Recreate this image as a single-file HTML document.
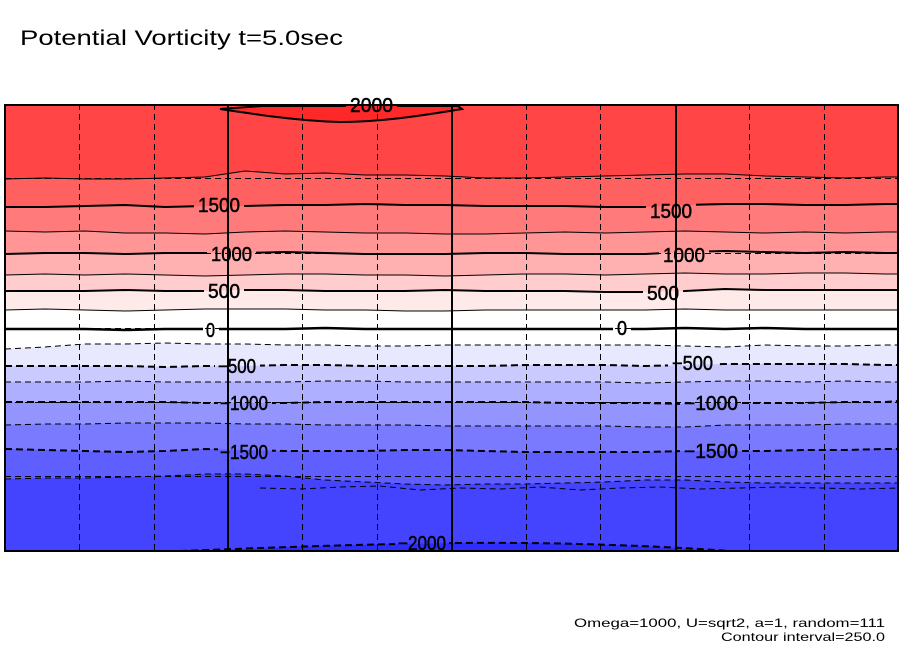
<!DOCTYPE html>
<html><head><meta charset="utf-8"><style>
html,body{margin:0;padding:0;background:#fff;}
svg{display:block;}
text{font-family:"Liberation Sans",sans-serif;fill:#000;}
</style></head><body>
<svg width="904" height="654" viewBox="0 0 904 654" xmlns="http://www.w3.org/2000/svg">
<defs>
<clipPath id="pc"><rect x="5" y="104" width="893" height="447"/></clipPath>
<mask id="lm" maskUnits="userSpaceOnUse" x="0" y="0" width="904" height="654">
<rect x="0" y="0" width="904" height="654" fill="#fff"/>
<g fill="#000">
<rect x="194" y="196" width="50" height="18"/>
<rect x="646" y="202" width="50" height="18"/>
<rect x="207" y="246" width="49" height="17"/>
<rect x="659" y="247" width="50" height="17"/>
<rect x="204" y="283" width="40" height="17"/>
<rect x="643" y="285" width="40" height="17"/>
<rect x="203" y="322" width="16" height="17"/>
<rect x="613" y="320" width="18" height="17"/>
<rect x="215" y="357" width="45" height="18"/>
<rect x="668" y="355" width="49" height="17"/>
<rect x="218" y="395" width="54" height="17"/>
<rect x="680" y="395" width="62" height="17"/>
<rect x="218" y="444" width="54" height="17"/>
<rect x="680" y="443" width="62" height="17"/>
<rect x="346" y="97" width="51" height="17"/>
<rect x="395" y="536" width="54" height="17"/>
</g>
</mask>
</defs>

<text x="20" y="45" font-size="21" textLength="323" lengthAdjust="spacingAndGlyphs">Potential Vorticity t=5.0sec</text>

<g clip-path="url(#pc)">
<rect x="5" y="104" width="893" height="447" fill="#4444ff"/>
<polygon fill="#5f5fff" points="5,104 5,479 45,478 85,478 125,477 165,476 205,474 245,474 285,476 325,480 365,482 405,484 445,485 485,484 525,484 565,483 605,482 645,480 685,480 725,482 765,483 805,483 845,483 885,483 898,483 898,104"/>
<polygon fill="#7a7aff" points="5,104 5,449 45,450 85,451 125,452 165,451 205,449 245,450 285,451 325,451 365,451 405,450 445,450 485,451 525,452 565,452 605,452 645,452 685,451 725,451 765,451 805,450 845,450 885,449 898,449 898,104"/>
<polygon fill="#9494ff" points="5,104 5,425 45,424 85,424 125,423 165,423 205,423 245,424 285,424 325,425 365,425 405,425 445,426 485,426 525,426 565,426 605,426 645,427 685,427 725,425 765,425 805,425 845,424 885,424 898,424 898,104"/>
<polygon fill="#afafff" points="5,104 5,402 45,402 85,402 125,402 165,402 205,403 245,403 285,403 325,402 365,402 405,402 445,402 485,402 525,402 565,403 605,403 645,403 685,404 725,403 765,403 805,403 845,402 885,402 898,401 898,104"/>
<polygon fill="#cacaff" points="5,104 5,382 45,382 85,382 125,381 165,382 205,382 245,382 285,382 325,381 365,381 405,382 445,382 485,382 525,382 565,382 605,382 645,383 685,382 725,381 765,381 805,382 845,381 885,382 898,382 898,104"/>
<polygon fill="#e8e8ff" points="5,104 5,366 45,366 85,366 125,366 165,367 205,366 245,366 285,365 325,365 365,366 405,366 445,366 485,366 525,365 565,365 605,365 645,366 685,365 725,364 765,364 805,364 845,364 885,365 898,365 898,104"/>
<polygon fill="#ffffff" points="5,104 5,349 45,347 85,344 125,344 165,343 205,344 245,344 285,345 325,345 365,346 405,346 445,345 485,345 525,345 565,345 605,345 645,345 685,346 725,347 765,345 805,346 845,346 885,345 898,345 898,104"/>
<polygon fill="#ffeaea" points="5,104 5,310 45,309 85,310 125,311 165,310 205,309 245,309 285,309 325,310 365,310 405,311 445,311 485,310 525,310 565,310 605,310 645,310 685,309 725,310 765,310 805,310 845,310 885,310 898,310 898,104"/>
<polygon fill="#ffcdcd" points="5,104 5,291 45,291 85,291 125,290 165,291 205,291 245,290 285,290 325,291 365,291 405,291 445,290 485,291 525,291 565,291 605,292 645,292 685,291 725,289 765,290 805,290 845,290 885,290 898,290 898,104"/>
<polygon fill="#ffb0b0" points="5,104 5,275 45,274 85,275 125,274 165,275 205,276 245,275 285,274 325,274 365,275 405,275 445,276 485,275 525,274 565,274 605,275 645,274 685,273 725,274 765,274 805,273 845,273 885,274 898,274 898,104"/>
<polygon fill="#ff9595" points="5,104 5,254 45,253 85,253 125,254 165,253 205,253 245,253 285,252 325,253 365,254 405,254 445,254 485,253 525,253 565,254 605,254 645,254 685,252 725,251 765,252 805,253 845,252 885,253 898,253 898,104"/>
<polygon fill="#ff7a7a" points="5,104 5,231 45,232 85,231 125,233 165,233 205,234 245,232 285,231 325,232 365,233 405,233 445,234 485,234 525,233 565,232 605,233 645,232 685,231 725,232 765,233 805,232 845,233 885,232 898,232 898,104"/>
<polygon fill="#ff6060" points="5,104 5,207 45,207 85,206 125,205 165,207 205,206 245,206 285,205 325,205 365,204 405,205 445,205 485,206 525,206 565,206 605,207 645,207 685,205 725,204 765,204 805,205 845,205 885,204 898,204 898,104"/>
<polygon fill="#ff4545" points="5,104 5,179 45,178 85,179 125,179 165,178 205,177 245,171 285,174 325,173 365,175 405,175 445,176 485,178 525,178 565,177 605,176 645,175 685,174 725,174 765,176 805,177 845,178 885,177 898,177 898,104"/>
<path d="M220,109 L262,106 L458,106 L462,109 C420,116 380,122 340,122 C300,121 260,115 220,109 Z" fill="#ff2828"/>
<path d="M180,552 C260,548 340,545 400,544 L460,543 C560,542 660,546 730,552 Z" fill="#2d2dff"/>

<g mask="url(#lm)" fill="none" stroke="#000">
<g stroke-width="1">
<polyline points="5,179 45,178 85,179 125,179 165,178 205,177 245,171 285,174 325,173 365,175 405,175 445,176 485,178 525,178 565,177 605,176 645,175 685,174 725,174 765,176 805,177 845,178 885,177 898,177"/>
<polyline points="5,231 45,232 85,231 125,233 165,233 205,234 245,232 285,231 325,232 365,233 405,233 445,234 485,234 525,233 565,232 605,233 645,232 685,231 725,232 765,233 805,232 845,233 885,232 898,232"/>
<polyline points="5,275 45,274 85,275 125,274 165,275 205,276 245,275 285,274 325,274 365,275 405,275 445,276 485,275 525,274 565,274 605,275 645,274 685,273 725,274 765,274 805,273 845,273 885,274 898,274"/>
<polyline points="5,310 45,309 85,310 125,311 165,310 205,309 245,309 285,309 325,310 365,310 405,311 445,311 485,310 525,310 565,310 605,310 645,310 685,309 725,310 765,310 805,310 845,310 885,310 898,310"/>
</g>
<g stroke-width="2">
<polyline points="5,207 45,207 85,206 125,205 165,207 205,206 245,206 285,205 325,205 365,204 405,205 445,205 485,206 525,206 565,206 605,207 645,207 685,205 725,204 765,204 805,205 845,205 885,204 898,204"/>
<polyline points="5,254 45,253 85,253 125,254 165,253 205,253 245,253 285,252 325,253 365,254 405,254 445,254 485,253 525,253 565,254 605,254 645,254 685,252 725,251 765,252 805,253 845,252 885,253 898,253"/>
<polyline points="5,291 45,291 85,291 125,290 165,291 205,291 245,290 285,290 325,291 365,291 405,291 445,290 485,291 525,291 565,291 605,292 645,292 685,291 725,289 765,290 805,290 845,290 885,290 898,290"/>
<polyline stroke-width="2.5" points="5,329 45,329 85,329 125,330 165,329 205,329 245,329 285,329 325,328 365,329 405,329 445,329 485,329 525,329 565,329 605,329 645,329 685,328 725,329 765,328 805,329 845,329 885,329 898,329"/>
<path d="M220,109 L262,106 L458,106 L462,109 C420,116 380,122 340,122 C300,121 260,115 220,109 Z"/>
</g>
<g stroke-width="1" stroke-dasharray="6,4">
<polyline points="5,349 45,347 85,344 125,344 165,343 205,344 245,344 285,345 325,345 365,346 405,346 445,345 485,345 525,345 565,345 605,345 645,345 685,346 725,347 765,345 805,346 845,346 885,345 898,345"/>
<polyline points="5,382 45,382 85,382 125,381 165,382 205,382 245,382 285,382 325,381 365,381 405,382 445,382 485,382 525,382 565,382 605,382 645,383 685,382 725,381 765,381 805,382 845,381 885,382 898,382"/>
<polyline points="5,425 45,424 85,424 125,423 165,423 205,423 245,424 285,424 325,425 365,425 405,425 445,426 485,426 525,426 565,426 605,426 645,427 685,427 725,425 765,425 805,425 845,424 885,424 898,424"/>
<polyline points="5,479 45,478 85,478 125,477 165,476 205,474 245,474 285,476 325,480 365,482 405,484 445,485 485,484 525,484 565,483 605,482 645,480 685,480 725,482 765,483 805,483 845,483 885,483 898,483"/>
<polyline points="260,488 300,489 340,487 380,486 420,490 460,488 500,489 540,487 580,490 620,488 660,487 700,489 740,488 780,487 820,488 860,489 898,488"/>
</g>
<g stroke-width="2" stroke-dasharray="7,4">
<polyline points="5,366 45,366 85,366 125,366 165,367 205,366 245,366 285,365 325,365 365,366 405,366 445,366 485,366 525,365 565,365 605,365 645,366 685,365 725,364 765,364 805,364 845,364 885,365 898,365"/>
<polyline points="5,402 45,402 85,402 125,402 165,402 205,403 245,403 285,403 325,402 365,402 405,402 445,402 485,402 525,402 565,403 605,403 645,403 685,404 725,403 765,403 805,403 845,402 885,402 898,401"/>
<polyline points="5,449 45,450 85,451 125,452 165,451 205,449 245,450 285,451 325,451 365,451 405,450 445,450 485,451 525,452 565,452 605,452 645,452 685,451 725,451 765,451 805,450 845,450 885,449 898,449"/>
<path d="M180,551 C260,548 340,545 400,544 L460,543 C560,542 660,546 730,551"/>
</g>
</g>

<g stroke="#000" stroke-width="1" stroke-dasharray="6,4" fill="none">
<line x1="79.5" y1="104" x2="79.5" y2="551"/>
<line x1="154.5" y1="104" x2="154.5" y2="551"/>
<line x1="302.5" y1="104" x2="302.5" y2="551"/>
<line x1="377.5" y1="104" x2="377.5" y2="551"/>
<line x1="526.5" y1="104" x2="526.5" y2="551"/>
<line x1="600.5" y1="104" x2="600.5" y2="551"/>
<line x1="749.5" y1="104" x2="749.5" y2="551"/>
<line x1="824.5" y1="104" x2="824.5" y2="551"/>
<line x1="5" y1="178.5" x2="898" y2="178.5"/>
<line x1="5" y1="253.5" x2="898" y2="253.5"/>
<line x1="5" y1="328.5" x2="898" y2="328.5"/>
<line x1="5" y1="402.5" x2="898" y2="402.5"/>
<line x1="5" y1="476.5" x2="898" y2="476.5"/>
</g>
<g stroke="#000" stroke-width="2">
<line x1="228" y1="104" x2="228" y2="551"/>
<line x1="452" y1="104" x2="452" y2="551"/>
<line x1="676" y1="104" x2="676" y2="551"/>
</g>
</g>
<rect x="5" y="105" width="893" height="446" fill="none" stroke="#000" stroke-width="2"/>

<g font-size="20" stroke="#000" stroke-width="0.5">
<text x="198" y="212" textLength="42" lengthAdjust="spacingAndGlyphs">1500</text>
<text x="650" y="218" textLength="42" lengthAdjust="spacingAndGlyphs">1500</text>
<text x="211" y="261" textLength="41" lengthAdjust="spacingAndGlyphs">1000</text>
<text x="663" y="262" textLength="42" lengthAdjust="spacingAndGlyphs">1000</text>
<text x="208" y="298" textLength="32" lengthAdjust="spacingAndGlyphs">500</text>
<text x="647" y="300" textLength="32" lengthAdjust="spacingAndGlyphs">500</text>
<text x="206" y="337" textLength="9" lengthAdjust="spacingAndGlyphs">0</text>
<text x="617" y="335" textLength="10" lengthAdjust="spacingAndGlyphs">0</text>
<text x="218" y="373" textLength="38" lengthAdjust="spacingAndGlyphs">−500</text>
<text x="672" y="370" textLength="41" lengthAdjust="spacingAndGlyphs">−500</text>
<text x="220" y="410" textLength="48" lengthAdjust="spacingAndGlyphs">−1000</text>
<text x="684" y="410" textLength="54" lengthAdjust="spacingAndGlyphs">−1000</text>
<text x="220" y="459" textLength="48" lengthAdjust="spacingAndGlyphs">−1500</text>
<text x="684" y="458" textLength="54" lengthAdjust="spacingAndGlyphs">−1500</text>
<text x="350" y="112" textLength="43" lengthAdjust="spacingAndGlyphs">2000</text>
<text x="398" y="550" textLength="48" lengthAdjust="spacingAndGlyphs">−2000</text>
</g>

<text x="574" y="627" font-size="12" textLength="311" lengthAdjust="spacingAndGlyphs">Omega=1000, U=sqrt2, a=1, random=111</text>
<text x="721" y="641" font-size="12" textLength="164" lengthAdjust="spacingAndGlyphs">Contour interval=250.0</text>
</svg>
</body></html>
